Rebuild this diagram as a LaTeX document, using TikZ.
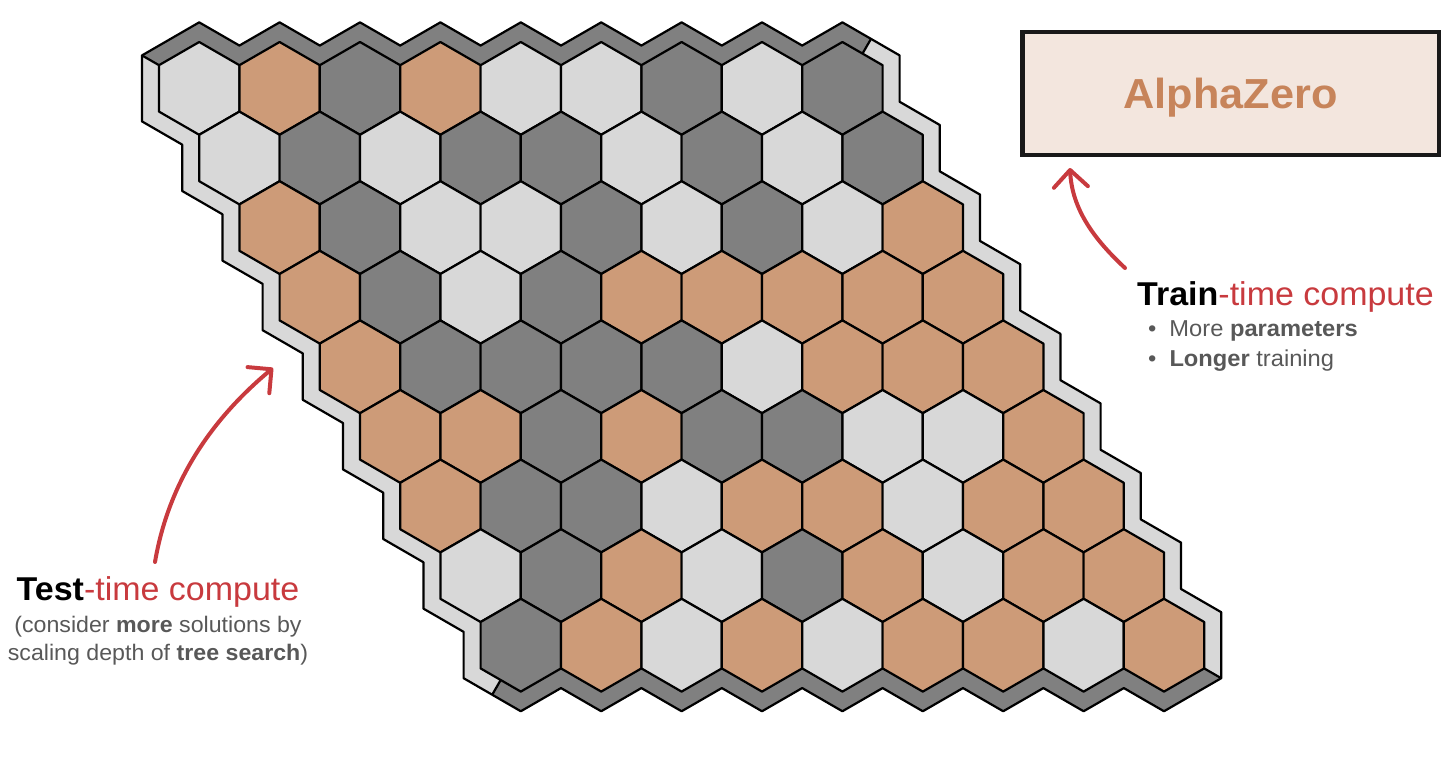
\documentclass[tikz,border=0pt]{standalone}
\usepackage{fontspec}
\setmainfont[FakeStretch=1.03]{Liberation Sans}
\usetikzlibrary{positioning,arrows.meta}
\definecolor{hexL}{RGB}{216,216,216}
\definecolor{hexD}{RGB}{128,128,128}
\definecolor{hexO}{RGB}{205,155,120}
\definecolor{boxfill}{RGB}{243,230,222}
\definecolor{alphacol}{RGB}{199,132,90}
\definecolor{redcol}{RGB}{200,58,62}
\definecolor{graytext}{RGB}{88,88,88}

\begin{document}
\begin{tikzpicture}[x=1pt, y=-1pt,
	hexline/.style={draw=black, line width=2.2pt, line join=round},
	frameline/.style={draw=black, line width=2.2pt, line join=round},
	redarrow/.style={draw=redcol, line width=4pt, line cap=round,
		-{Straight Barb[length=17pt,width=34pt,round]}},
	headtext/.style={font=\fontsize{33}{40}\selectfont, inner sep=0pt},
	notetext/.style={font=\fontsize{22.5}{28}\selectfont, text=graytext, inner sep=0pt}
	]
	\useasboundingbox (0,0) rectangle (1456,760);
	
	% frame of the board
	\fill[hexL] (142,55.4)
		\foreach \c in {0,...,7} { -- ({199.2+80.4*\c},22.35) -- ({239.4+80.4*\c},45.55) }
		-- (842.4,22.35) -- (899.6,55.4)
		\foreach \r in {0,...,7} { -- ({899.6+40.2*\r},{101.76+69.6*\r}) -- ({939.8+40.2*\r},{125+69.6*\r}) }
		-- (1221.2,678.2)
		\foreach \c in {8,...,1} { -- ({520.8+80.4*\c},711.25) -- ({480.6+80.4*\c},688.05) }
		-- (520.8,711.25) -- (463.6,678.2)
		\foreach \r in {8,...,1} { -- ({142+40.2*\r},{75.04+69.6*\r}) -- ({101.8+40.2*\r},{51.8+69.6*\r}) }
		-- cycle;
	\fill[hexD] (142,55.4)
		\foreach \c in {0,...,7} { -- ({199.2+80.4*\c},22.35) -- ({239.4+80.4*\c},45.55) }
		-- (842.4,22.35) -- (871,38.88) -- (862.5,53.6) -- (862.5,88.4)
		-- (159,88.4) -- (159,65.2) -- cycle;
	\fill[hexD] (1221.2,678.2)
		\foreach \c in {8,...,1} { -- ({520.8+80.4*\c},711.25) -- ({480.6+80.4*\c},688.05) }
		-- (520.8,711.25) -- (492.2,694.7) -- (500.7,680) -- (500.7,645.2)
		-- (1204.2,645.2) -- (1204.2,668.4) -- cycle;
	\draw[frameline] (142,55.4)
		\foreach \c in {0,...,7} { -- ({199.2+80.4*\c},22.35) -- ({239.4+80.4*\c},45.55) }
		-- (842.4,22.35) -- (899.6,55.4)
		\foreach \r in {0,...,7} { -- ({899.6+40.2*\r},{101.76+69.6*\r}) -- ({939.8+40.2*\r},{125+69.6*\r}) }
		-- (1221.2,678.2)
		\foreach \c in {8,...,1} { -- ({520.8+80.4*\c},711.25) -- ({480.6+80.4*\c},688.05) }
		-- (520.8,711.25) -- (463.6,678.2)
		\foreach \r in {8,...,1} { -- ({142+40.2*\r},{75.04+69.6*\r}) -- ({101.8+40.2*\r},{51.8+69.6*\r}) }
		-- cycle;
	\draw[frameline] (142,55.4) -- (159,65.2);
	\draw[frameline] (871,38.88) -- (862.5,53.6);
	\draw[frameline] (1221.2,678.2) -- (1204.2,668.4);
	\draw[frameline] (492.2,694.7) -- (500.7,680);
	
	% hex cells, row by row
	\foreach \r/\row in {0/{L,O,D,O,L,L,D,L,D}, 1/{L,D,L,D,D,L,D,L,D},
		2/{O,D,L,L,D,L,D,L,O}, 3/{O,D,L,D,O,O,O,O,O}, 4/{O,D,D,D,D,L,O,O,O},
		5/{O,O,D,O,D,D,L,L,O}, 6/{O,D,D,L,O,O,L,O,O}, 7/{L,D,O,L,D,O,L,O,O},
		8/{D,O,L,O,L,O,O,L,O}} {
		\foreach \k [count=\c from 0] in \row {
			\draw[hexline, fill=hex\k, shift={({199.2+80.4*\c+40.2*\r},{88.4+69.6*\r})}]
				(0,-46.4) -- (40.2,-23.2) -- (40.2,23.2) -- (0,46.4)
				-- (-40.2,23.2) -- (-40.2,-23.2) -- cycle;
		}
	}
	
	% AlphaZero box and train-time text
	\node[draw=black!90, line width=4.5pt, fill=boxfill, minimum width=416.5pt,
		minimum height=122.5pt, inner sep=0pt, text depth=0pt, text=alphacol,
		font=\fontsize{42}{48}\selectfont\bfseries] (alpha) at (1230.5,93.5) {AlphaZero};
	\node[headtext, anchor=base west] (train) at (1137,305)
		{\textbf{Train}\textcolor{redcol}{-time compute}};
	\node[notetext, anchor=base west, font=\fontsize{23}{28}\selectfont] (morepar) at (1148,336)
		{\textbullet\hspace{13pt}More \textbf{parameters}};
	\node[notetext, anchor=base west, font=\fontsize{23}{28}\selectfont] (longer) at (1148,366)
		{\textbullet\hspace{13pt}\textbf{Longer} training};
	
	% test-time text
	\node[headtext, anchor=base] (test) at (158,600)
		{\textbf{Test}\textcolor{redcol}{-time compute}};
	\node[notetext, anchor=base] (consider) at (158,632)
		{(consider \textbf{more} solutions by};
	\node[notetext, anchor=base] (scaling) at (158,660)
		{scaling depth of \textbf{tree search})};
	
	% arrows
	\coordinate (trainstart) at (1125,268);
	\coordinate (alphatip) at (1070,168);
	\coordinate (teststart) at (155,562);
	\coordinate (boardtip) at (273,368);
	\draw[redarrow] (trainstart) .. controls (1095,240) and (1072,210) .. (alphatip);
	\draw[redarrow] (teststart) .. controls (170,474) and (219,413) .. (boardtip);
\end{tikzpicture}
\end{document}
